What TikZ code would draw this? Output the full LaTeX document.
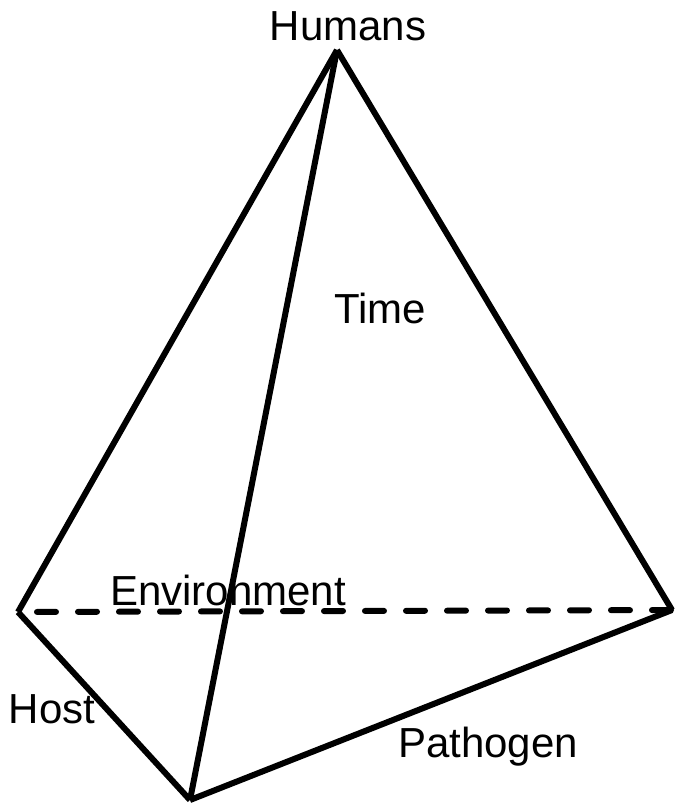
\documentclass[tikz,border=0pt]{standalone}
\usepackage{fontspec}
\setmainfont{Liberation Sans}
\usepackage{tikz}
\usetikzlibrary{positioning}

\begin{document}
\begin{tikzpicture}[x=1pt, y=-1pt,
    edge/.style={line width=6pt, black},
    hidden/.style={edge, line cap=round, dash pattern=on 19pt off 22pt, dash phase=22pt},
    lbl/.style={font=\fontsize{42}{42}\selectfont, inner sep=0pt, anchor=base}]
  \useasboundingbox (0,0) rectangle (676,807);

  % Corners of the tetrahedron
  \coordinate (apex) at (337,50);
  \coordinate (west) at (18,612);
  \coordinate (east) at (672,610);
  \coordinate (south) at (190,800);

  % Hidden back edge
  \draw[hidden] (west) -- (east);

  % Visible edges
  \draw[edge] (apex) -- (west);
  \draw[edge] (apex) -- (east);
  \draw[edge] (apex) -- (south);
  \draw[edge] (west) -- (south);
  \draw[edge] (south) -- (east);

  % Labels
  \node[lbl] (humans) at (348,40) {Humans};
  \node[lbl] (time) at (380,323) {Time};
  \node[lbl] (environment) at (228,605) {Environment};
  \node[lbl] (host) at (52,723) {Host};
  \node[lbl] (pathogen) at (488,757) {Pathogen};
\end{tikzpicture}
\end{document}
